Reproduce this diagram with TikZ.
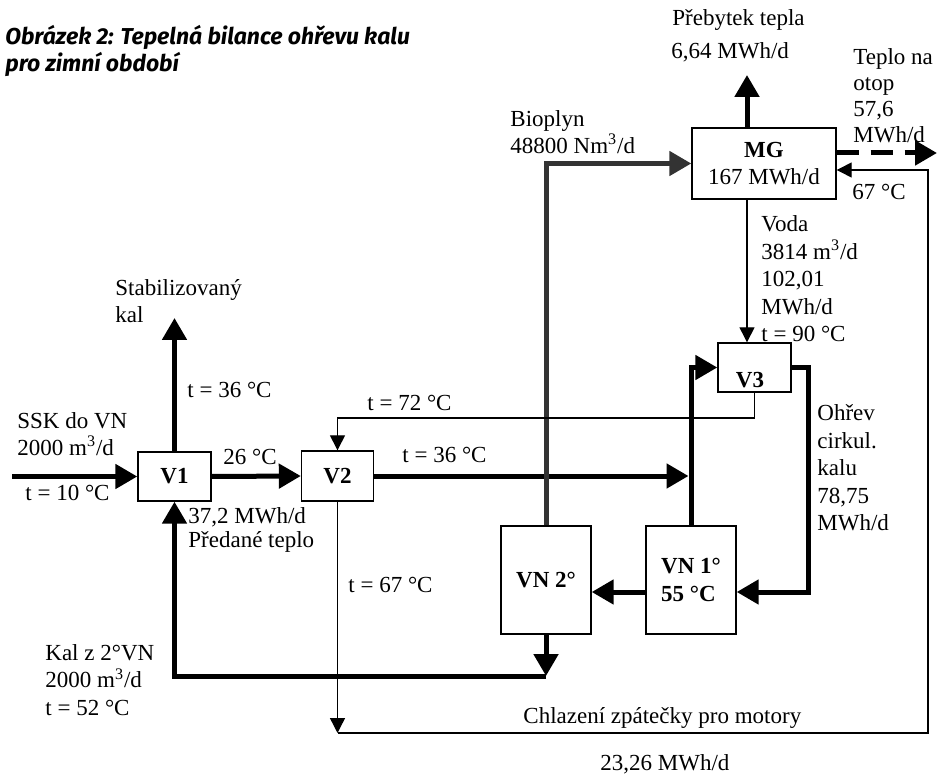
\documentclass[tikz,border=0pt]{standalone}
\usepackage{fontspec}
\setmainfont{Liberation Serif}
\newfontfamily\titlefont{Fira Sans}
\usetikzlibrary{arrows.meta,positioning,calc}

\begin{document}
\begin{tikzpicture}[x=0.5pt,y=-0.5pt,
  font=\fontsize{11.5}{13.75}\selectfont,
  box/.style={draw,line width=0.7pt,inner sep=0pt,font=\fontsize{11.5}{13.75}\selectfont\bfseries},
  flow/.style={line width=2.5pt,-{Triangle[length=11pt,width=12pt]}},
  thinflow/.style={line width=0.7pt,-{Triangle[length=7.5pt,width=7.5pt]}},
  txt/.style={anchor=west,inner sep=0pt,align=left}]
  \useasboundingbox (0,0) rectangle (941,774);
  \fill[white] (0,0) rectangle (941,774);

  % title
  \node[txt,font=\titlefont\fontsize{11.5}{11}\selectfont\bfseries\itshape] (title) at (5,51)
    {Obrázek 2: Tepelná bilance ohřevu kalu\\pro zimní období};

  % units
  \node[box,minimum width=36.5pt,minimum height=24.5pt] (V1) at (174.5,476.5) {V1};
  \node[box,minimum width=36pt,minimum height=25pt] (V2) at (337.5,476) {V2};
  \node[box,minimum width=72pt,minimum height=35.5pt,align=center] (MG) at (764,163.5) {MG\\\mdseries 167 MWh/d};
  \node[box,minimum width=36.5pt,minimum height=24.5pt] (V3) at (754.5,367.5) {};
  \node[font=\fontsize{11.5}{13.75}\selectfont\bfseries] (V3lbl) at (750,380) {V3};
  \node[box,minimum width=45pt,minimum height=54pt] (VN2) at (546,580) {VN 2°};
  \node[box,minimum width=45pt,minimum height=54pt,align=left] (VN1) at (691,580) {VN 1°\\55 °C};

  \coordinate (sskin) at (12,476.5);
  \coordinate (stabout) at (174.5,318);
  \coordinate (riser) at (688.5,476);
  \coordinate (lvl) at (700,592);
  \coordinate (kal) at (546,676);
  \coordinate (cool) at (337.5,733);
  \coordinate (ret) at (928,170);
  \coordinate (mgx) at (747,0);
  \coordinate (c72) at (500,418);
  \coordinate (excess) at (747,75);
  \coordinate (otop) at (937,153);

  % sludge (thick)
  \draw[flow] (sskin) -- (V1.west);
  \draw[flow] (V1.north) -- (stabout);
  \draw[flow] (V1.east) -- (V2.west);
  \draw[flow] (V2.east) -- (V2.east -| riser);
  \draw[flow] (VN1.north) |- (V3.west);
  \draw[flow] (V3.east) -- ++(17,0) |- (VN1.east |- lvl);
  \draw[flow] (VN1.west |- lvl) -- (VN2.east |- lvl);
  \draw[flow] (kal) -| (V1.south);
  \draw[flow] (VN2.south) -- (kal);
  \draw[flow,black!80] (VN2.north) |- (MG.west);

  % heat
  \draw[flow] (MG.north -| mgx) -- (excess);
  \draw[line width=2.5pt,dash pattern=on 11pt off 6pt,-{Triangle[length=11pt,width=12pt]}] (MG.east |- otop) -- (otop);

  % water (thin)
  \draw[thinflow] (MG.south -| mgx) -- (V3.north -| mgx);
  \draw[thinflow] (V3.south) |- (c72) -| (V2.north);
  \draw[thinflow] (V2.south) -- (cool);
  \draw[thinflow] (cool) -| (ret) -- (MG.east |- ret);

  % labels
  \node[txt] (preb) at (672,20) {Přebytek tepla};
  \node[txt] (prebval) at (671,52) {6,64 MWh/d};
  \node[txt,font=\fontsize{11.5}{13}\selectfont] (otoplbl) at (853,96) {Teplo na\\otop\\57,6\\MWh/d};
  \node[txt] (bio) at (510,132) {Bioplyn\\48800 Nm\textsuperscript{3}/d};
  \node[txt] (ret67) at (852,192) {67 °C};
  \node[txt] (voda) at (761,279) {Voda\\3814 m\textsuperscript{3}/d\\102,01\\MWh/d\\t = 90 °C};
  \node[txt] (stab) at (115,301) {Stabilizovaný\\kal};
  \node[txt] (t36a) at (187,390) {t = 36 °C};
  \node[txt] (ohrev) at (817,468) {Ohřev\\cirkul.\\kalu\\78,75\\MWh/d};
  \node[txt] (ssk) at (17,434) {SSK do VN\\2000 m\textsuperscript{3}/d};
  \node[txt] (t10) at (25,493) {t = 10 °C};
  \node[txt] (t26) at (223,457) {26 °C};
  \node[txt] (t72) at (367,403) {t = 72 °C};
  \node[txt] (t36b) at (402,455) {t = 36 °C};
  \node[txt] (preda) at (188,530) {37,2 MWh/d\\[-1.5pt]Předané teplo};
  \node[txt] (t67) at (348,585) {t = 67 °C};
  \node[txt] (kalz) at (45,680) {Kal z 2°VN\\2000 m\textsuperscript{3}/d\\t = 52 °C};
  \node[txt] (chlaz) at (523,718) {Chlazení zpátečky pro motory};
  \node[txt] (mwh) at (600,764) {23,26 MWh/d};
\end{tikzpicture}
\end{document}
